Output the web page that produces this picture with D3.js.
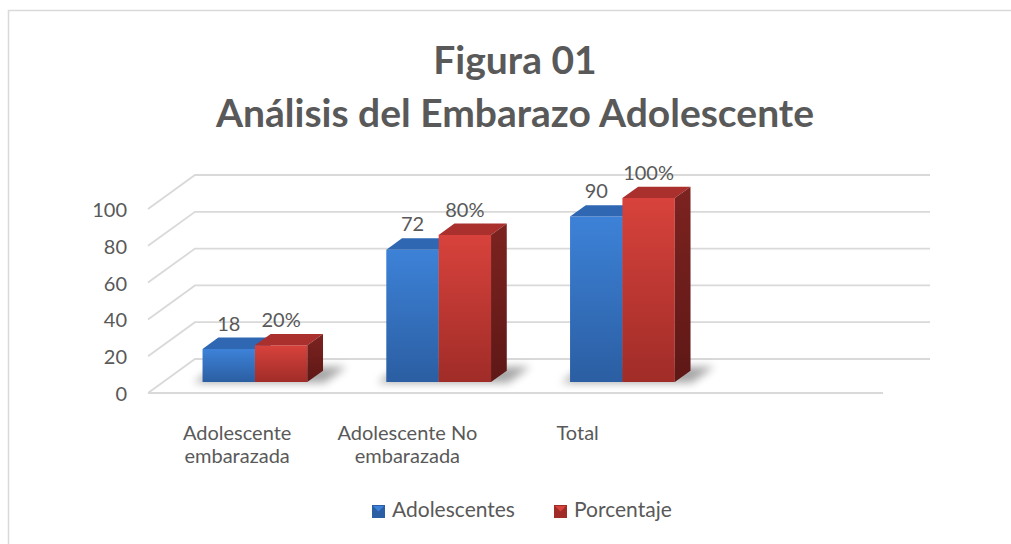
<!DOCTYPE html>
<html>
<head>
<meta charset="utf-8">
<script src="https://cdn.jsdelivr.net/npm/d3@7"></script>
<style>
  html, body { margin: 0; padding: 0; background: #fff; }
  svg { display: block; font-family: Lato, "Open Sans", sans-serif; }
</style>
</head>
<body>
<div id="chart"></div>
<script>
// Chart data
const titleLines = ["Figura 01", "Análisis del Embarazo Adolescente"];
// the original sheet has an empty fourth row, so keep a blank slot
const categories = ["Adolescente embarazada", "Adolescente No embarazada", "Total", ""];
const categoryLines = [["Adolescente", "embarazada"], ["Adolescente No", "embarazada"], ["Total"], []];
const series = ["Adolescentes", "Porcentaje"];
const adolescentes = [18, 72, 90];
const porcentaje = [20, 80, 100];
const porcentajeLabels = ["20%", "80%", "100%"];
const yTicks = [0, 20, 40, 60, 80, 100];

const width = 1011, height = 544;
const textColor = "#595959";
const gridColor = "#d9d9d9";

// 3D floor: front-left corner, width, depth vector (front -> back)
const floor = { x: 148, y: 393, w: 735, dx: 47, dy: -34 };
const barZ0 = 0.32, barZ1 = 0.655;

function proj(u, h, z) {
    return [floor.x + u + z * floor.dx, floor.y - h + z * floor.dy];
}

const svg = d3.select("#chart").append("svg")
    .attr("width", width)
    .attr("height", height);

const defs = svg.append("defs");

// colour sets per series
const palette = {
    Adolescentes: { front: ["#3d82d8", "#2b5ea2"], top: "#2f67b3", side: ["#24508f", "#1b3d6e"] },
    Porcentaje:   { front: ["#d8423c", "#a02c28"], top: "#a9302c", side: ["#7c2320", "#5e1816"] }
};

series.forEach((s, i) => {
    const g1 = defs.append("linearGradient").attr("id", "front" + i)
        .attr("x1", 0).attr("y1", 0).attr("x2", 0).attr("y2", 1);
    g1.append("stop").attr("offset", "0%").attr("stop-color", palette[s].front[0]);
    g1.append("stop").attr("offset", "100%").attr("stop-color", palette[s].front[1]);
    const g2 = defs.append("linearGradient").attr("id", "side" + i)
        .attr("x1", 0).attr("y1", 0).attr("x2", 0).attr("y2", 1);
    g2.append("stop").attr("offset", "0%").attr("stop-color", palette[s].side[0]);
    g2.append("stop").attr("offset", "100%").attr("stop-color", palette[s].side[1]);
});

defs.append("filter").attr("id", "blur")
    .attr("x", "-50%").attr("y", "-50%").attr("width", "200%").attr("height", "200%")
    .append("feGaussianBlur").attr("stdDeviation", 4);

// chart area border
svg.append("rect")
    .attr("x", 8.5).attr("y", 10.5)
    .attr("width", width).attr("height", height)
    .attr("fill", "#fff")
    .attr("stroke", gridColor)
    .attr("stroke-width", 1.5);

// Title
const title = svg.append("text")
    .attr("text-anchor", "middle")
    .attr("fill", textColor)
    .attr("font-weight", "bold")
    .attr("font-size", 39);
titleLines.forEach((t, i) => {
    title.append("tspan")
        .attr("x", 515)
        .attr("y", 74 + i * 53)
        .text(t);
});

// Scales
const y = d3.scaleLinear().domain([0, 100]).range([0, 184]);
const x0 = d3.scaleBand().domain(categories).range([0, floor.w])
    .paddingInner(0.43).paddingOuter(0.215);
const x1 = d3.scaleBand().domain(series).range([0, x0.bandwidth()]);
const labelX = d3.scaleBand().domain(categories).range([152, 833]);

const line = d3.line();

// gridlines on back wall + left wall
const grid = svg.append("g")
    .attr("fill", "none")
    .attr("stroke", gridColor)
    .attr("stroke-width", 1.8);
yTicks.forEach(t => {
    const h = y(t);
    grid.append("path").attr("d", line([proj(0, h, 0), proj(0, h, 1), proj(floor.w, h, 1)]));
});
// floor front edge
grid.append("path").attr("d", line([proj(0, 0, 0), proj(floor.w, 0, 0)]));

// Y axis labels on the front plane
const yFront = d3.scaleLinear().domain([0, 100]).range([floor.y, floor.y - y(100)]);
const yAxis = svg.append("g")
    .attr("transform", `translate(${floor.x},1)`)
    .call(d3.axisLeft(yFront).tickValues(yTicks).tickSize(0).tickPadding(21));
yAxis.select(".domain").remove();
yAxis.selectAll("text")
    .attr("fill", textColor)
    .attr("font-family", "Lato, sans-serif")
    .attr("font-size", 20);

// Bars
const valuesBySeries = { Adolescentes: adolescentes, Porcentaje: porcentaje };
const labelsBySeries = { Adolescentes: adolescentes.map(String), Porcentaje: porcentajeLabels };
const bars = svg.append("g");

categories.forEach((c, ci) => {
    if (ci >= adolescentes.length) return;
    // soft shadow on the floor
    const su0 = x0(c) - 8, su1 = x0(c) + x0.bandwidth() + 18;
    bars.append("path")
        .attr("d", line([proj(su0, 0, barZ0 - 0.02), proj(su1, 0, barZ0 - 0.02),
                         proj(su1, 0, barZ1 + 0.12), proj(su0, 0, barZ1 + 0.12)]) + "Z")
        .attr("fill", "#000")
        .attr("opacity", 0.35)
        .attr("filter", "url(#blur)");

    series.forEach((s, si) => {
        const v = valuesBySeries[s][ci];
        const h = y(v);
        const u0 = x0(c) + x1(s), u1 = u0 + x1.bandwidth();
        const g = bars.append("g");
        g.append("path")
            .attr("d", line([proj(u0, 0, barZ0), proj(u1, 0, barZ0), proj(u1, h, barZ0), proj(u0, h, barZ0)]) + "Z")
            .attr("fill", `url(#front${si})`);
        g.append("path")
            .attr("d", line([proj(u0, h, barZ0), proj(u1, h, barZ0), proj(u1, h, barZ1), proj(u0, h, barZ1)]) + "Z")
            .attr("fill", palette[s].top);
        g.append("path")
            .attr("d", line([proj(u1, 0, barZ0), proj(u1, 0, barZ1), proj(u1, h, barZ1), proj(u1, h, barZ0)]) + "Z")
            .attr("fill", `url(#side${si})`);

        // data label
        const front = proj((u0 + u1) / 2, h, barZ0);
        const back = proj(u1, h, barZ1);
        svg.append("text")
            .attr("x", front[0])
            .attr("y", back[1] - 7)
            .attr("text-anchor", "middle")
            .attr("fill", textColor)
            .attr("font-size", 20)
            .text(labelsBySeries[s][ci]);
    });
});

// Category labels
categories.forEach((c, ci) => {
    const t = svg.append("text")
        .attr("text-anchor", "middle")
        .attr("fill", textColor)
        .attr("font-size", 20);
    categoryLines[ci].forEach((l, li) => {
        t.append("tspan")
            .attr("x", labelX(c) + labelX.bandwidth() / 2)
            .attr("y", 440 + li * 23)
            .text(l);
    });
});

// Legend
const legendX = [372, 554];
series.forEach((s, si) => {
    const lg = svg.append("g").attr("transform", `translate(${legendX[si]},505)`);
    lg.append("rect").attr("width", 13).attr("height", 13).attr("fill", palette[s].front[1]);
    lg.append("path").attr("d", "M1,1H12L6.5,6.5Z").attr("fill", palette[s].front[0]);
    lg.append("text")
        .attr("x", 20)
        .attr("y", 12)
        .attr("fill", textColor)
        .attr("font-size", 21)
        .text(s);
});
</script>
</body>
</html>
